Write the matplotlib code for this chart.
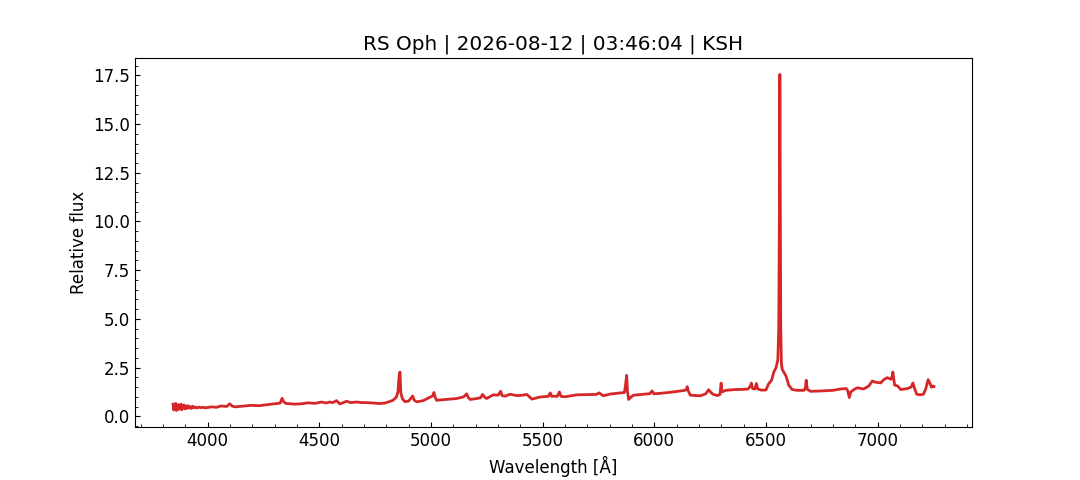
import matplotlib
matplotlib.use("Agg")
import matplotlib.pyplot as plt
from matplotlib.ticker import AutoMinorLocator

plt.rcParams["font.size"] = 12

title = "RS Oph | 2026-08-12 | 03:46:04 | KSH"

wavelength = [
    3845, 3848, 3851, 3854, 3857, 3860, 3863, 3866, 3869, 3872, 3875, 3878,
    3881, 3884, 3887, 3890, 3894, 3898, 3902, 3906, 3910, 3915, 3920, 3926,
    3932, 3938, 3945, 3952, 3960, 3970, 3980, 3990, 4000, 4017, 4040, 4061,
    4085, 4099, 4110, 4121, 4160, 4196, 4230, 4270, 4308, 4325, 4333, 4340,
    4350, 4390, 4420, 4450, 4480, 4510, 4530, 4547, 4560, 4577, 4592, 4622,
    4640, 4667, 4690, 4712, 4740, 4771, 4795, 4816, 4830, 4845, 4852, 4857,
    4861, 4865, 4872, 4883, 4900, 4918, 4925, 4936, 4965, 4996, 5008, 5013,
    5018, 5025, 5045, 5070, 5090, 5115, 5145, 5160, 5166, 5175, 5205, 5222,
    5231, 5240, 5249, 5279, 5300, 5312, 5318, 5332, 5354, 5384, 5410, 5429,
    5452, 5489, 5525, 5534, 5540, 5547, 5565, 5575, 5582, 5600, 5653, 5698,
    5740, 5753, 5771, 5803, 5848, 5866, 5871, 5876, 5880, 5885, 5892, 5907,
    5952, 5980, 5990, 5998, 6030, 6072, 6100, 6131, 6143, 6147, 6152, 6161,
    6206, 6230, 6243, 6255, 6264, 6283, 6294, 6299, 6303, 6320, 6360, 6400,
    6420, 6430, 6434, 6440, 6450, 6457, 6463, 6480, 6500, 6511, 6525, 6535,
    6545, 6553, 6557, 6560, 6562, 6564, 6566, 6569, 6572, 6575, 6583, 6590,
    6602, 6617, 6640, 6670, 6676, 6680, 6685, 6700, 6750, 6800, 6834, 6860,
    6866, 6873, 6880, 6895, 6909, 6937, 6960, 6976, 6990, 7013, 7030, 7043,
    7060, 7066, 7068, 7076, 7090, 7103, 7133, 7150, 7158, 7166, 7175, 7190,
    7205, 7215, 7226, 7234, 7241, 7248, 7252,
]

flux = [
    0.62, 0.32, 0.58, 0.36, 0.66, 0.30, 0.55, 0.38, 0.60, 0.35, 0.52, 0.40,
    0.62, 0.33, 0.55, 0.42, 0.58, 0.38, 0.52, 0.40, 0.55, 0.42, 0.50, 0.40,
    0.52, 0.43, 0.48, 0.42, 0.47, 0.44, 0.46, 0.43, 0.45, 0.48, 0.46, 0.53,
    0.50, 0.64, 0.52, 0.48, 0.52, 0.56, 0.54, 0.60, 0.65, 0.68, 0.92, 0.75,
    0.66, 0.62, 0.64, 0.69, 0.66, 0.73, 0.68, 0.73, 0.70, 0.80, 0.63, 0.77,
    0.70, 0.73, 0.70, 0.70, 0.68, 0.65, 0.68, 0.76, 0.82, 0.98, 1.25, 2.05,
    2.27, 1.20, 0.90, 0.75, 0.78, 1.04, 0.82, 0.74, 0.80, 0.98, 1.05, 1.22,
    1.00, 0.82, 0.84, 0.86, 0.88, 0.91, 0.99, 1.15, 0.98, 0.86, 0.91, 0.95,
    1.12, 0.98, 0.91, 1.10, 1.08, 1.28, 1.06, 1.03, 1.13, 1.06, 1.08, 1.12,
    0.88, 0.99, 1.02, 1.20, 1.02, 1.03, 1.02, 1.25, 1.02, 1.00, 1.10, 1.11,
    1.12, 1.20, 1.05, 1.14, 1.20, 1.22, 1.60, 2.10, 1.25, 0.86, 0.95, 1.08,
    1.13, 1.16, 1.30, 1.15, 1.18, 1.23, 1.27, 1.32, 1.35, 1.52, 1.30, 1.08,
    1.05, 1.15, 1.36, 1.20, 1.12, 1.06, 1.12, 1.70, 1.25, 1.33, 1.37, 1.38,
    1.40, 1.55, 1.70, 1.42, 1.40, 1.68, 1.40, 1.34, 1.35, 1.65, 1.85, 2.27,
    2.50, 2.90, 4.50, 10.5, 17.55, 10.5, 4.50, 2.70, 2.45, 2.36, 2.20, 2.05,
    1.59, 1.37, 1.33, 1.33, 1.45, 1.85, 1.38, 1.28, 1.30, 1.33, 1.40, 1.42,
    1.30, 0.96, 1.25, 1.38, 1.46, 1.40, 1.55, 1.81, 1.75, 1.71, 1.90, 1.98,
    1.90, 2.10, 2.27, 1.60, 1.55, 1.37, 1.42, 1.50, 1.71, 1.40, 1.13, 1.10,
    1.13, 1.40, 1.88, 1.70, 1.49, 1.55, 1.53,
]

fig, ax = plt.subplots(figsize=(10.8, 4.8), dpi=100)
ax.plot(wavelength, flux, color="#d62728", linewidth=2)
ax.set_title(title)
ax.set_xlabel("Wavelength [Å]")
ax.set_ylabel("Relative flux")
ax.xaxis.set_minor_locator(AutoMinorLocator(5))
ax.yaxis.set_minor_locator(AutoMinorLocator(5))
ax.tick_params(which="both", direction="in")
fig.savefig("out.png", dpi=100)
